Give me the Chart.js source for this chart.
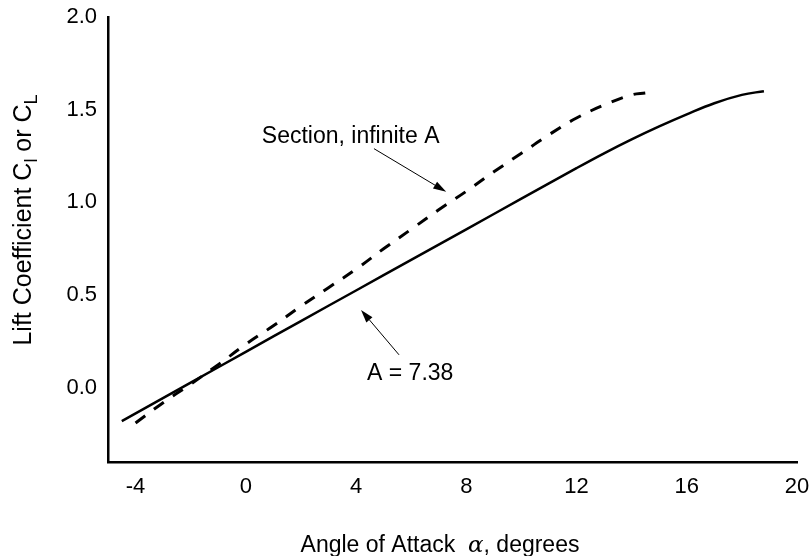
<!DOCTYPE html>
<html>
<head>
<meta charset="utf-8">
<script src="https://cdn.jsdelivr.net/npm/chart.js@4.4.1/dist/chart.umd.min.js"></script>
<style>
  html, body { margin: 0; padding: 0; background: #fff; }
  canvas { display: block; }
</style>
</head>
<body>
<canvas id="chart" width="809" height="556"></canvas>
<script>
// angle of attack (deg) and lift coefficient
const alphaWing = [-4.5, -2, 0, 2, 4, 6, 8, 10, 12, 13, 14, 15, 16, 17, 18, 18.8]
const clWing = [-0.18, 0.028, 0.194, 0.36, 0.525, 0.69, 0.855, 1.02, 1.185, 1.265, 1.34, 1.41, 1.475, 1.535, 1.58, 1.6]

const alphaSection = [-4, -3, -2, -1, 0, 1, 2, 3, 4, 5, 6, 7, 8, 9, 10, 11, 12, 13, 14, 14.5]
const clSection = [-0.19, -0.08, 0.02, 0.125, 0.235, 0.335, 0.44, 0.54, 0.64, 0.75, 0.855, 0.96, 1.06, 1.165, 1.265, 1.365, 1.455, 1.525, 1.58, 1.59]

const xTicks = [-4, 0, 4, 8, 12, 16, 20]
const yTicks = [0, 0.5, 1.0, 1.5, 2.0]

const FONT = "Liberation Sans, Arial, Helvetica, sans-serif"

const toPoints = (xs, ys) => xs.map((x, i) => ({ x: x, y: ys[i] }))

// labels + arrows, placed in data units
const notes = [
  { text: "Section, infinite A", x: 0.58, y: 1.32, from: [4.65, 1.29], to: [7.27, 1.057] },
  { text: "A = 7.38", x: 4.4, y: 0.043, from: [5.56, 0.178], to: [4.18, 0.42] },
]

function arrow(ctx, x1, y1, x2, y2) {
  const ang = Math.atan2(y2 - y1, x2 - x1)
  const len = 13, half = 4
  ctx.beginPath()
  ctx.moveTo(x1, y1)
  ctx.lineTo(x2 - Math.cos(ang) * len, y2 - Math.sin(ang) * len)
  ctx.stroke()
  ctx.beginPath()
  ctx.moveTo(x2, y2)
  ctx.lineTo(x2 - Math.cos(ang) * len - Math.sin(ang) * half, y2 - Math.sin(ang) * len + Math.cos(ang) * half)
  ctx.lineTo(x2 - Math.cos(ang) * len + Math.sin(ang) * half, y2 - Math.sin(ang) * len - Math.cos(ang) * half)
  ctx.closePath()
  ctx.fill()
}

const annotate = {
  id: "annotate",
  afterDatasetsDraw(chart) {
    const { ctx, scales: { x, y } } = chart
    ctx.save()
    ctx.fillStyle = "#000"
    ctx.strokeStyle = "#000"
    ctx.lineWidth = 1
    ctx.font = "23px " + FONT
    ctx.textAlign = "left"
    ctx.textBaseline = "alphabetic"
    notes.forEach(n => {
      ctx.fillText(n.text, x.getPixelForValue(n.x), y.getPixelForValue(n.y))
      arrow(ctx,
        x.getPixelForValue(n.from[0]), y.getPixelForValue(n.from[1]),
        x.getPixelForValue(n.to[0]), y.getPixelForValue(n.to[1]))
    })
    ctx.restore()
  },
  afterDraw(chart) {
    const ctx = chart.ctx
    ctx.save()
    ctx.fillStyle = "#000"
    ctx.textBaseline = "alphabetic"

    // x title, alpha in a serif face like the original
    const parts = [
      { t: "Angle of Attack  ", f: "23px " + FONT },
      { t: "\u03b1", f: "italic 23px DejaVu Serif, serif" },
      { t: ", degrees", f: "23px " + FONT },
    ]
    let w = 0
    parts.forEach(p => { ctx.font = p.f; w += ctx.measureText(p.t).width })
    let cx = 440 - w / 2
    parts.forEach(p => { ctx.font = p.f; ctx.fillText(p.t, cx, 552); cx += ctx.measureText(p.t).width })

    // y title with subscripts
    ctx.translate(31, 0)
    ctx.rotate(-Math.PI / 2)
    const yparts = [
      { t: "Lift Coefficient C", f: "25px " + FONT, dy: 0 },
      { t: "l", f: "18px " + FONT, dy: 6 },
      { t: " or C", f: "25px " + FONT, dy: 0 },
      { t: "L", f: "18px " + FONT, dy: 6 },
    ]
    let yw = 0
    yparts.forEach(p => { ctx.font = p.f; yw += ctx.measureText(p.t).width })
    let cy = -220 - yw / 2
    yparts.forEach(p => { ctx.font = p.f; ctx.fillText(p.t, cy, p.dy); cy += ctx.measureText(p.t).width })
    ctx.restore()
  },
}

new Chart(document.getElementById("chart").getContext("2d"), {
  type: "line",
  data: {
    datasets: [
      {
        label: "A = 7.38",
        data: toPoints(alphaWing, clWing),
        borderColor: "#000",
        borderWidth: 2.5,
        pointRadius: 0,
        tension: 0.4,
        fill: false,
      },
      {
        label: "Section, infinite A",
        data: toPoints(alphaSection, clSection),
        borderColor: "#000",
        borderWidth: 3,
        borderDash: [12, 11],
        pointRadius: 0,
        tension: 0.4,
        fill: false,
      },
    ],
  },
  options: {
    responsive: false,
    animation: false,
    layout: { padding: { top: 17, right: 12, left: 0, bottom: 0 } },
    plugins: {
      legend: { display: false },
      tooltip: { enabled: false },
    },
    scales: {
      x: {
        type: "linear",
        min: -5,
        max: 20,
        grid: { display: false, drawTicks: false },
        border: { display: true, color: "#000", width: 2.5 },
        afterBuildTicks: s => { s.ticks = xTicks.map(v => ({ value: v })) },
        afterFit: s => { s.height = 94; s.paddingLeft = 0; s.paddingRight = 0 },
        ticks: {
          color: "#000",
          padding: 12,
          maxRotation: 0,
          font: { family: FONT, size: 22 },
          callback: v => String(v),
        },
      },
      y: {
        min: -0.4,
        max: 2.0,
        grid: { display: false, drawTicks: false },
        border: { display: true, color: "#000", width: 2.5 },
        afterBuildTicks: s => { s.ticks = yTicks.map(v => ({ value: v })) },
        afterFit: s => { s.width = 108; s.paddingTop = 0; s.paddingBottom = 0 },
        ticks: {
          color: "#000",
          padding: 11,
          font: { family: FONT, size: 22 },
          callback: v => v.toFixed(1),
        },
      },
    },
  },
  plugins: [annotate],
})
</script>
</body>
</html>
